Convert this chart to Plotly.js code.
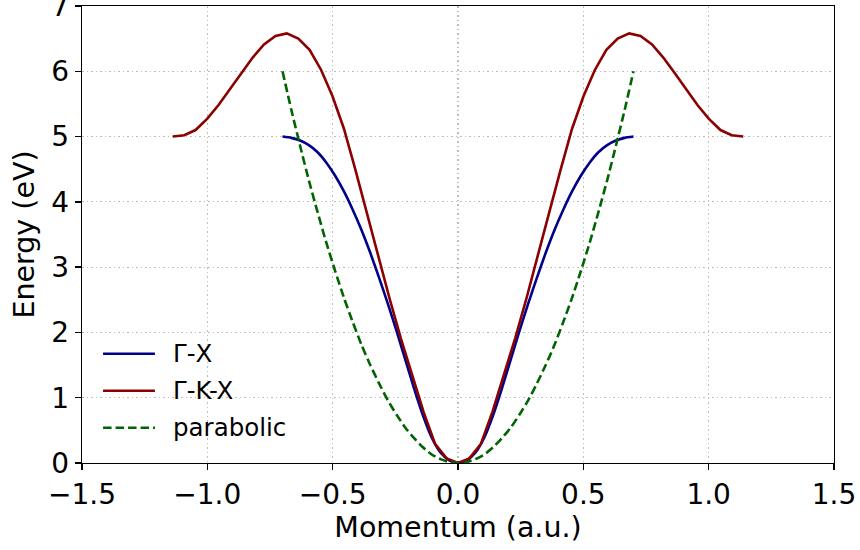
<!DOCTYPE html>
<html>
<head>
<meta charset="utf-8">
<script src="https://cdn.plot.ly/plotly-3.0.1.min.js"></script>
<style>
  html, body { margin: 0; padding: 0; background: #fff; }
  #chart { width: 860px; height: 550px; }
</style>
</head>
<body>
<div id="chart"></div>
<script>
// Band structure along the Γ-X direction (a.u. momentum, energy in eV)
const kGX = [-0.700, -0.665, -0.630, -0.595, -0.560, -0.525, -0.490, -0.455, -0.420, -0.385, -0.350,
             -0.315, -0.280, -0.245, -0.210, -0.175, -0.140, -0.105, -0.070, -0.035, 0.000,
             0.035, 0.070, 0.105, 0.140, 0.175, 0.210, 0.245, 0.280, 0.315, 0.350,
             0.385, 0.420, 0.455, 0.490, 0.525, 0.560, 0.595, 0.630, 0.665, 0.700];
const eGX = [5.00, 4.98, 4.94, 4.87, 4.76, 4.60, 4.40, 4.16, 3.88, 3.57, 3.22,
             2.84, 2.44, 2.02, 1.58, 1.14, 0.73, 0.39, 0.16, 0.04, 0.00,
             0.04, 0.16, 0.39, 0.73, 1.14, 1.58, 2.02, 2.44, 2.84, 3.22,
             3.57, 3.88, 4.16, 4.40, 4.60, 4.76, 4.87, 4.94, 4.98, 5.00];

// Band along the Γ-K-X path
const kGKX = [-1.138, -1.092, -1.047, -1.001, -0.956, -0.910, -0.865, -0.819, -0.774, -0.728,
              -0.683, -0.637, -0.592, -0.546, -0.501, -0.455, -0.410, -0.364, -0.319, -0.273,
              -0.228, -0.182, -0.137, -0.091, -0.0455, 0.000,
              0.0455, 0.091, 0.137, 0.182, 0.228, 0.273, 0.319, 0.364, 0.410, 0.455,
              0.501, 0.546, 0.592, 0.637, 0.683, 0.728, 0.774, 0.819, 0.865, 0.910,
              0.956, 1.001, 1.047, 1.092, 1.138];
const eGKX = [5.00, 5.02, 5.10, 5.27, 5.48, 5.72, 5.97, 6.21, 6.41, 6.54,
              6.58, 6.50, 6.33, 6.02, 5.62, 5.12, 4.50, 3.84, 3.17, 2.52,
              1.91, 1.34, 0.78, 0.29, 0.07, 0.00,
              0.07, 0.29, 0.78, 1.34, 1.91, 2.52, 3.17, 3.84, 4.50, 5.12,
              5.62, 6.02, 6.33, 6.50, 6.58, 6.54, 6.41, 6.21, 5.97, 5.72,
              5.48, 5.27, 5.10, 5.02, 5.00];

// Free-electron (parabolic) reference
const kPar = kGX;
const ePar = [6.00, 5.41, 4.86, 4.33, 3.84, 3.37, 2.94, 2.53, 2.16, 1.81, 1.50,
              1.22, 0.96, 0.74, 0.54, 0.38, 0.24, 0.13, 0.06, 0.015, 0.00,
              0.015, 0.06, 0.13, 0.24, 0.38, 0.54, 0.74, 0.96, 1.22, 1.50,
              1.81, 2.16, 2.53, 2.94, 3.37, 3.84, 4.33, 4.86, 5.41, 6.00];

const seriesNames = ['Γ-X', 'Γ-K-X', 'parabolic'];
const seriesColors = ['#00008b', '#8b0000', '#006400'];

const xTicks = [-1.5, -1.0, -0.5, 0.0, 0.5, 1.0, 1.5];
const xTickText = ['−1.5', '−1.0', '−0.5', '0.0', '0.5', '1.0', '1.5'];
const yTicks = [0, 1, 2, 3, 4, 5, 6, 7];

const FONT = 'DejaVu Sans, Liberation Sans, sans-serif';
const LW = 2.6;
const DASH = '8.5px,4px';

const traces = [
  { x: kGX, y: eGX, name: seriesNames[0], mode: 'lines',
    line: { color: seriesColors[0], width: LW, shape: 'spline', smoothing: 0.6 } },
  { x: kGKX, y: eGKX, name: seriesNames[1], mode: 'lines',
    line: { color: seriesColors[1], width: LW } },
  { x: kPar, y: ePar, name: seriesNames[2], mode: 'lines',
    line: { color: seriesColors[2], width: LW, dash: DASH, shape: 'spline', smoothing: 0.6 } }
];

// Legend drawn in the lower-left corner of the axes: a line sample and a label per series
const legendX0 = 0.028, legendX1 = 0.097, legendTextX = 0.118;
const legendRows = [0.239, 0.158, 0.077];
const shapes = [];
const annotations = [];
seriesNames.forEach((name, i) => {
  shapes.push({
    type: 'line', xref: 'paper', yref: 'paper',
    x0: legendX0, x1: legendX1, y0: legendRows[i], y1: legendRows[i],
    line: { color: seriesColors[i], width: LW, dash: i === 2 ? DASH : 'solid' }
  });
  annotations.push({
    xref: 'paper', yref: 'paper', x: legendTextX, y: legendRows[i],
    xanchor: 'left', yanchor: 'middle', showarrow: false, text: name,
    font: { family: FONT, size: 24.5, color: '#000' }
  });
});

const axisCommon = {
  showline: true, mirror: true, linecolor: '#000', linewidth: 1.3,
  ticks: 'outside', ticklen: 6, tickwidth: 1.3, tickcolor: '#000',
  showgrid: true, gridcolor: '#bdbdbd', gridwidth: 1.1, griddash: '1.5px,3px',
  zeroline: false, ticklabeloverflow: 'allow',
  tickfont: { family: FONT, size: 28, color: '#000' }
};

const layout = {
  width: 860, height: 550,
  margin: { l: 82, r: 26, t: 6, b: 87 },
  paper_bgcolor: '#fff', plot_bgcolor: '#fff',
  showlegend: false,
  shapes: shapes,
  annotations: annotations,
  xaxis: Object.assign({}, axisCommon, {
    range: [-1.5, 1.5], tickvals: xTicks, ticktext: xTickText,
    title: { text: 'Momentum (a.u.)', standoff: 3,
             font: { family: FONT, size: 28.5, color: '#000' } }
  }),
  yaxis: Object.assign({}, axisCommon, {
    range: [0, 7], tickvals: yTicks,
    title: { text: 'Energy (eV)', standoff: 8,
             font: { family: FONT, size: 28.5, color: '#000' } }
  })
};

Plotly.newPlot('chart', traces, layout, { staticPlot: true, displayModeBar: false });
</script>
</body>
</html>
